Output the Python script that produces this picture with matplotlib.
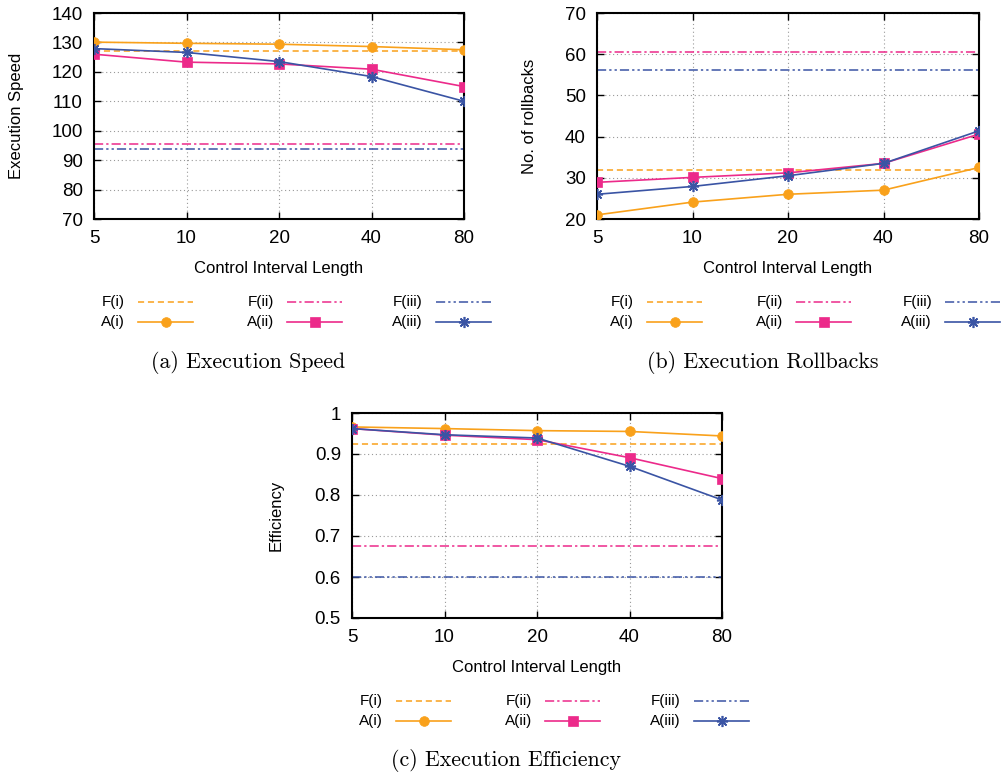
import numpy as np
import matplotlib
matplotlib.use('Agg')
import matplotlib.pyplot as plt
from matplotlib.lines import Line2D

plt.rcParams['font.family'] = ['Liberation Sans', 'DejaVu Sans']

# control interval lengths
intervals = [5, 10, 20, 40, 80]
interval_labels = ['5', '10', '20', '40', '80']

# (a) execution speed
speed_f = [127.1, 95.5, 93.9]
speed_a1 = [130.1, 129.7, 129.4, 128.6, 127.5]
speed_a2 = [126.0, 123.3, 122.7, 120.9, 115.0]
speed_a3 = [127.9, 126.6, 123.5, 118.4, 110.0]

# (b) rollbacks
roll_f = [32.0, 60.5, 56.1]
roll_a1 = [21.0, 24.1, 26.0, 27.0, 32.5]
roll_a2 = [28.9, 30.1, 31.2, 33.5, 40.6]
roll_a3 = [26.0, 27.9, 30.5, 33.5, 41.4]

# (c) efficiency
eff_f = [0.924, 0.676, 0.600]
eff_a1 = [0.966, 0.962, 0.957, 0.955, 0.944]
eff_a2 = [0.962, 0.946, 0.935, 0.891, 0.840]
eff_a3 = [0.962, 0.947, 0.939, 0.870, 0.788]

orange = '#F9A11B'
pink = '#EC2A8A'
blue = '#3A54A4'
colors = [orange, pink, blue]
f_styles = [(0, (4, 2.5)), (0, (6, 2, 1.5, 2)), (0, (6, 2, 1.5, 2, 1.5, 2))]
markers = ['o', 's', (8, 2, 0)]
msizes = [7, 7, 8]
f_names = ['F(i)', 'F(ii)', 'F(iii)']
a_names = ['A(i)', 'A(ii)', 'A(iii)']

W, H = 1007, 774
fig = plt.figure(figsize=(W / 100, H / 100), dpi=100)


def px_axes(l, t, r, b):
    return fig.add_axes([l / W, 1 - b / H, (r - l) / W, (b - t) / H])


def draw_panel(ax, f_vals, a_series, yticks, ylabel, ylim, yfmt, ypad):
    x = np.log2(intervals)
    for i in range(3):
        ax.axhline(f_vals[i], color=colors[i], lw=1.1, linestyle=f_styles[i], zorder=2)
    for i in range(3):
        ax.plot(x, a_series[i], color=colors[i], lw=1.2, marker=markers[i],
                markersize=msizes[i], markeredgewidth=1.2 if i == 2 else 0.5, zorder=3)
    ax.set_xlim(x[0], x[-1])
    ax.set_xticks(x)
    ax.set_xticklabels(interval_labels)
    ax.set_ylim(*ylim)
    ax.set_yticks(yticks)
    ax.set_yticklabels([yfmt(v) for v in yticks])
    ax.grid(True, color='#999999', linestyle=(0, (1, 2.5)), lw=0.8)
    ax.tick_params(direction='in', length=5, width=1, top=True, right=True,
                   labelsize=13.5, pad=8, colors='black')
    for s in ax.spines.values():
        s.set_linewidth(1.5)
    ax.set_xlabel('Control Interval Length', fontsize=12, labelpad=10)
    ax.set_ylabel(ylabel, fontsize=12, labelpad=ypad)


def draw_legend(lab_x, row_y):
    # lab_x: right edge of first label; rows at row_y (pixels)
    for j in range(3):
        lx = lab_x + j * 149
        for k, yy in enumerate(row_y):
            name = f_names[j] if k == 0 else a_names[j]
            fig.text(lx / W, 1 - yy / H, name, ha='right', va='center', fontsize=11)
            xs = np.array([lx + 13, lx + 40.5, lx + 68]) / W
            ys = np.full(3, 1 - yy / H)
            if k == 0:
                ln = Line2D(xs, ys, color=colors[j], lw=1.1, linestyle=f_styles[j],
                            transform=fig.transFigure)
            else:
                ln = Line2D(xs, ys, color=colors[j], lw=1.2, marker=markers[j],
                            markersize=msizes[j], markevery=[1],
                            markeredgewidth=1.2 if j == 2 else 0.5,
                            transform=fig.transFigure)
            fig.add_artist(ln)


fmt_int = lambda v: '%d' % v
fmt_eff = lambda v: '1' if v == 1 else '%.1f' % v

ax1 = px_axes(94, 13, 464, 219)
draw_panel(ax1, speed_f, [speed_a1, speed_a2, speed_a3], np.arange(70, 141, 10),
           'Execution Speed', (70, 140), fmt_int, 20)
draw_legend(125, [302, 322])
fig.text(248 / W, 1 - 362 / H, '(a) Execution Speed', ha='center', va='center',
         family='cmr10', fontsize=15.8)

ax2 = px_axes(597, 13, 979, 219)
draw_panel(ax2, roll_f, [roll_a1, roll_a2, roll_a3], np.arange(20, 71, 10),
           'No. of rollbacks', (20, 70), fmt_int, 20)
draw_legend(634, [302, 322])
fig.text(763 / W, 1 - 362 / H, '(b) Execution Rollbacks', ha='center', va='center',
         family='cmr10', fontsize=15.8)

ax3 = px_axes(352, 413, 722, 618)
draw_panel(ax3, eff_f, [eff_a1, eff_a2, eff_a3], [0.5, 0.6, 0.7, 0.8, 0.9, 1.0],
           'Efficiency', (0.5, 1.0), fmt_eff, 22)
draw_legend(383, [701, 721])
fig.text(506 / W, 1 - 761 / H, '(c) Execution Efficiency', ha='center', va='center',
         family='cmr10', fontsize=15.8)

fig.savefig('out.png', dpi=100)
